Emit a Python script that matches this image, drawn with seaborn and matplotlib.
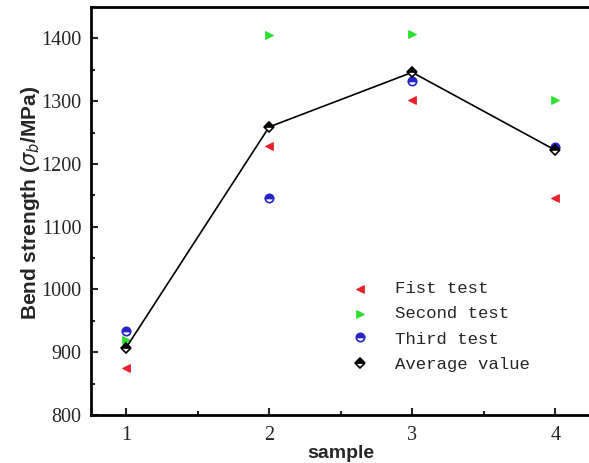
import numpy as np
import pandas as pd
import seaborn as sns
import matplotlib.pyplot as plt
from matplotlib.ticker import MultipleLocator

samples = [1, 2, 3, 4]
first_test = [875, 1228, 1302, 1146]
second_test = [919, 1405, 1407, 1302]
third_test = [934, 1145, 1333, 1227]
average_value = [907, 1259, 1346, 1222]

sns.set_style("ticks")
plt.rcParams['font.family'] = ['Liberation Serif', 'DejaVu Serif']

fig = plt.figure(figsize=(5.89, 4.63), dpi=100)
ax = fig.add_axes([0.1545, 0.1037, 0.849, 0.881])

# first and second test: filled triangles
for label, vals, mk, col in [("Fist test", first_test, "<", "#e8202a"),
                             ("Second test", second_test, ">", "#2ee02e")]:
    sns.scatterplot(x=samples, y=vals, marker=mk, color=col, s=30,
                    edgecolor=col, linewidth=0.8, ax=ax, label=label, zorder=3)

# third test: half filled circles
sns.lineplot(x=samples, y=third_test, linestyle='none', marker='o',
             markersize=6, color="#2424c8", markeredgecolor="#2424c8",
             markeredgewidth=1.2, fillstyle='top', markerfacecoloralt='white',
             ax=ax, label="Third test", zorder=3)

# average value with connecting line
sns.lineplot(x=samples, y=average_value, color="black", linewidth=1.2,
             marker="D", markersize=5.5, fillstyle='top',
             markerfacecolor="black", markerfacecoloralt="white",
             markeredgecolor="black", markeredgewidth=1.2, ax=ax,
             label="Average value", zorder=4)

ax.set_xlim(0.755, 4.25)
ax.set_ylim(800, 1450)
ax.xaxis.set_major_locator(MultipleLocator(1))
ax.xaxis.set_minor_locator(MultipleLocator(0.5))
ax.yaxis.set_major_locator(MultipleLocator(100))
ax.yaxis.set_minor_locator(MultipleLocator(50))
ax.tick_params(which='both', direction='in', width=1.5, labelsize=14.5)
ax.tick_params(which='major', length=5)
ax.tick_params(which='minor', length=3)
ax.tick_params(axis='x', pad=8)
ax.tick_params(axis='y', pad=7)
for sp in ax.spines.values():
    sp.set_linewidth(2)
    sp.set_color("black")

ax.set_xlabel("sample", family=['Liberation Sans'], fontweight='bold',
              fontsize=14, labelpad=0)
ax.set_ylabel(r"Bend strength ($\sigma_b$/MPa)", family=['Liberation Sans'],
              fontweight='bold', fontsize=15, labelpad=5)
ax.yaxis.set_label_coords(-0.098, 0.52)

leg = ax.legend(loc='upper left', bbox_to_anchor=(0.489, 0.367), frameon=False,
                prop={'family': 'Liberation Mono', 'size': 12.5},
                handletextpad=1.5, labelspacing=0.58, handlelength=1.0)
leg.legend_handles[3].set_linestyle('none')

fig.savefig("out.png", dpi=100)
